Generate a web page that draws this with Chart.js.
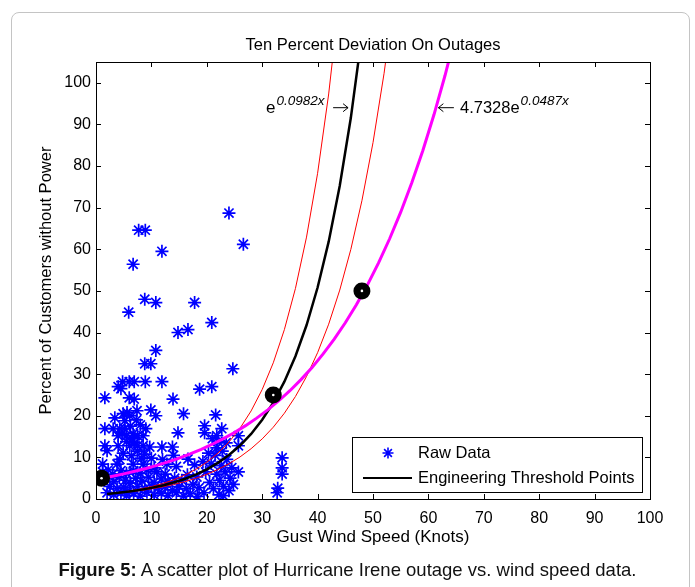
<!DOCTYPE html>
<html lang="en">
<head>
<meta charset="UTF-8">
<title>Ten Percent Deviation On Outages</title>
<style>
  body {
      margin: 0;
      padding: 0;
      background: #fff;
      font-family: 'Liberation Sans', Arial, sans-serif;
      overflow: hidden;
  }
  .page {
      position: relative;
      width: 695px;
      height: 587px;
      overflow: hidden;
  }
  .frame {
      position: absolute;
      left: 11px;
      top: 12px;
      width: 677px;
      height: 640px;
      border: 1px solid #c4c4c4;
      border-radius: 8px;
  }
  canvas {
      position: absolute;
      left: 0;
      top: 0;
  }
  .caption {
      position: absolute;
      left: 0;
      top: 559px;
      width: 695px;
      text-align: center;
      font-size: 18.5px;
      color: #111;
  }
</style>
</head>
<body>
<div class="page">
  <div class="frame"></div>
  <canvas id="chart" width="695" height="587"></canvas>
  <div class="caption"><b>Figure 5:</b> A scatter plot of Hurricane Irene outage vs. wind speed data.</div>
</div>

<script src="https://cdn.jsdelivr.net/npm/chart.js"></script>
<script>
  // --- data ---
  const chartTitle = 'Ten Percent Deviation On Outages';
  const xTitle = 'Gust Wind Speed (Knots)';
  const yTitle = 'Percent of Customers without Power';
  const xTicks = [0, 10, 20, 30, 40, 50, 60, 70, 80, 90, 100];
  const yTicks = [0, 10, 20, 30, 40, 50, 60, 70, 80, 90, 100];

  // raw data (blue asterisks)
  const rawX = [
    24, 7.7, 8.9, 11.9, 26.6, 6.7, 8.8, 10.8, 17.8, 5.9, 20.9, 14.8, 16.6, 10.8, 8.8, 9.9, 24.7,
    1.6, 4.8, 6, 6.9, 8.9, 11.9, 4, 4.5, 6, 6.9, 13.9, 18.7, 20.9, 9.9, 10.8, 15.8, 21.6, 3.4, 4.9, 6.1, 7.4, 5.6,
    1.6, 3.1, 9, 14.8, 19.6, 19.6, 22.7, 21.8, 25.7, 25.7, 2, 9.7, 11.9, 13.8, 21.8, 16.6, 33.6, 33.6, 33.6, 32.7, 32.8, 25.7,
    4.3, 5.2, 4.7, 6.7, 6.5, 4, 5.5, 7.5, 8.5, 1.6, 4, 6.1, 7.5, 8.5, 4.9, 6.4, 7.5, 5.5, 7, 6.2, 8, 7.3, 5.2, 4.3, 8.2, 8.8,
    1.2, 3.8, 6.7, 8.5, 12.8, 10.5, 14.5, 17.8,
    1.2, 2.2, 3, 4.5, 5.5, 6.8, 8, 9.2, 11, 12.5,
    2, 3.2, 4.2, 5.3, 6.2, 7.2, 8.3, 9.5, 10.5, 11.8, 13, 14.2, 15.5,
    2.5, 3.8, 5, 6, 7.5, 8.8, 10, 11.2, 12.5, 13.8, 15, 16.3, 17.5, 18.6,
    2, 3.2, 4.5, 5.5, 6.8, 8, 9.2, 10.5, 11.8, 13, 14.5, 15.8, 17, 18.3, 19.5,
    16.5, 18.2, 12, 14, 10,
    19.8, 20.5, 20.8, 21.2, 21.5, 21.8, 22.2, 22.3, 22.6, 22.8, 23, 23.3, 23.5, 23.6, 24, 24.2, 24.5, 22, 20.3, 19.3, 21, 24.8, 23
  ];
  const rawY = [
    68.7, 64.6, 64.6, 59.5, 61.2, 56.4, 48, 47.2, 47.2, 44.9, 42.4, 40, 40.7, 35.7, 32.5, 32.5, 31.3,
    24.3, 28.2, 28.2, 28.2, 28.2, 28.2, 27, 26.5, 24.3, 24, 24, 26.4, 27, 21.4, 20, 20.5, 20.2, 19.5, 20.5, 20, 21.2, 20.8,
    16.9, 16.9, 16.9, 15.9, 17.6, 15.9, 16.9, 15.2, 15.2, 12.8, 11.6, 12.5, 12.5, 12.5, 12.3, 9.6, 9.9, 7.5, 6, 1.5, 2.6, 6.5,
    16.9, 16.9, 15.7, 15.7, 14.5, 15.2, 15.2, 15.2, 15.2, 12.8, 12.8, 12.8, 12.8, 12.8, 11, 10.4, 11.5, 13.8, 13.5, 17.5, 17.8, 19, 18.8, 9.5, 9.8, 10.8,
    8.4, 8.4, 8.4, 8.4, 8.4, 7.5, 7.8, 8.2,
    6.5, 7, 6, 6.8, 6.2, 6.8, 6.2, 7, 6.5, 6,
    4.8, 4.2, 5.2, 4.5, 3.8, 5, 4.3, 5.2, 4, 4.8, 4.2, 5, 4.5,
    3, 2.5, 2.8, 2, 3, 2.5, 3.2, 2.6, 3, 2.2, 3, 2.5, 3.5, 2.7,
    1.5, 1, 1.5, 0.8, 1.3, 0.7, 1.6, 0.9, 1.4, 0.8, 1.5, 0.7, 1.3, 0.6, 1.5,
    5.8, 5.3, 9.5, 10.5, 9.8,
    6.5, 4, 8.5, 2.5, 10.5, 6, 1, 4.5, 8, 11.5, 3, 6.5, 13.5, 9.5, 2, 5, 7.5, 13.8, 11, 9, 14.5, 3.5, 0.8
  ];

  // engineering threshold points (black circles)
  const thresholdX = [1, 32, 48];
  const thresholdY = [5, 25, 50];

  // black curve  e^(0.0982x)
  const fitX = [2, 4, 6, 8, 10, 12, 14, 16, 18, 20, 22, 24, 26, 28, 30, 32, 34, 36, 38, 40, 42, 44, 46, 48];
  const fitY = [1.22, 1.48, 1.80, 2.19, 2.67, 3.25, 3.95, 4.81, 5.86, 7.13, 8.68, 10.56, 12.85, 15.64, 19.03, 23.16, 28.19, 34.31, 41.75, 50.81, 61.84, 75.26, 91.59, 111.5];

  // red curves, ten percent deviation
  const upperX = [2, 4, 6, 8, 10, 12, 14, 16, 18, 20, 22, 24, 26, 28, 30, 32, 34, 36, 38, 40, 42, 44];
  const upperY = [1.24, 1.55, 1.92, 2.39, 2.97, 3.70, 4.60, 5.72, 7.11, 8.85, 11.0, 13.68, 17.01, 21.16, 26.31, 32.72, 40.69, 50.6, 62.93, 78.26, 97.32, 121.0];
  const lowerX = [2, 4, 6, 8, 10, 12, 14, 16, 18, 20, 22, 24, 26, 28, 30, 32, 34, 36, 38, 40, 42, 44, 46, 48, 50, 52, 54];
  const lowerY = [1.2, 1.43, 1.71, 2.04, 2.44, 2.91, 3.48, 4.15, 4.96, 5.93, 7.09, 8.47, 10.11, 12.09, 14.44, 17.25, 20.61, 24.63, 29.43, 35.16, 42.01, 50.2, 59.98, 71.67, 85.63, 102.3, 122.3];

  // magenta curve  4.7328e^(0.0487x)
  const trendX = [1, 3, 5, 7, 9, 11, 13, 15, 17, 19, 21, 23, 25, 27, 29, 31, 33, 35, 37, 39, 41, 43, 45, 47, 49, 51, 53, 55, 57, 59, 61, 63, 65];
  const trendY = [4.97, 5.48, 6.04, 6.66, 7.34, 8.09, 8.91, 9.83, 10.83, 11.94, 13.16, 14.51, 15.99, 17.63, 19.43, 21.42, 23.61, 26.02, 28.69, 31.62, 34.86, 38.42, 42.35, 46.68, 51.46, 56.72, 62.53, 68.92, 75.97, 83.74, 92.31, 101.75, 112.16];

  const legendLabels = ['Raw Data', 'Engineering Threshold Points'];

  const pts = (xs, ys) => xs.map((v, i) => ({ x: v, y: ys[i] }));
  const FONT = '"Liberation Sans", Arial, sans-serif';

  function star(ctx, cx, cy, r) {
    const d = r * Math.SQRT1_2;
    ctx.beginPath();
    ctx.moveTo(cx - r, cy); ctx.lineTo(cx + r, cy);
    ctx.moveTo(cx, cy - r); ctx.lineTo(cx, cy + r);
    ctx.moveTo(cx - d, cy - d); ctx.lineTo(cx + d, cy + d);
    ctx.moveTo(cx - d, cy + d); ctx.lineTo(cx + d, cy - d);
    ctx.stroke();
  }

  // thin text-style arrow, dir = 1 points right, -1 points left
  function arrow(ctx, x0, x1, yy, dir) {
    const tip = dir > 0 ? x1 : x0;
    ctx.beginPath();
    ctx.moveTo(x0, yy); ctx.lineTo(x1, yy);
    ctx.moveTo(tip - dir * 5, yy - 4); ctx.lineTo(tip, yy); ctx.lineTo(tip - dir * 5, yy + 4);
    ctx.stroke();
  }

  // axes box, inward ticks, titles, formula labels and legend
  const decor = {
    id: 'decor',
    afterDraw(chart) {
      const { ctx, chartArea: ca, scales: { x, y } } = chart;
      ctx.save();
      ctx.strokeStyle = '#000';
      ctx.lineWidth = 1;
      ctx.strokeRect(ca.left + 0.5, ca.top + 0.5, ca.right - ca.left, ca.bottom - ca.top);

      ctx.beginPath();
      xTicks.forEach(v => {
        const px = Math.round(x.getPixelForValue(v)) + 0.5;
        ctx.moveTo(px, ca.bottom); ctx.lineTo(px, ca.bottom - 5);
        ctx.moveTo(px, ca.top); ctx.lineTo(px, ca.top + 5);
      });
      yTicks.forEach(v => {
        const py = Math.round(y.getPixelForValue(v)) + 0.5;
        ctx.moveTo(ca.left, py); ctx.lineTo(ca.left + 5, py);
        ctx.moveTo(ca.right, py); ctx.lineTo(ca.right - 5, py);
      });
      ctx.stroke();

      // titles
      ctx.fillStyle = '#000';
      ctx.textAlign = 'center';
      ctx.textBaseline = 'middle';
      const cx = (ca.left + ca.right) / 2;
      ctx.font = '16.5px ' + FONT;
      ctx.fillText(chartTitle, cx, ca.top - 17);
      ctx.font = '17px ' + FONT;
      ctx.fillText(xTitle, cx, ca.bottom + 38);
      ctx.font = '16.5px ' + FONT;
      ctx.save();
      ctx.translate(ca.left - 50, (ca.top + ca.bottom) / 2);
      ctx.rotate(-Math.PI / 2);
      ctx.fillText(yTitle, 0, 0);
      ctx.restore();

      // formula labels
      ctx.textAlign = 'left';
      ctx.textBaseline = 'alphabetic';
      let lx = x.getPixelForValue(30.7);
      const base = y.getPixelForValue(92.7);
      ctx.font = '17px ' + FONT;
      ctx.fillText('e', lx, base);
      lx += ctx.measureText('e').width + 1;
      ctx.font = 'italic 13.5px ' + FONT;
      ctx.fillText('0.0982x', lx, base - 8);
      ctx.lineWidth = 1;
      arrow(ctx, x.getPixelForValue(42.8), x.getPixelForValue(45.5), base - 5.5, 1);
      arrow(ctx, x.getPixelForValue(61.8), x.getPixelForValue(64.6), base - 5.5, -1);

      let rx = x.getPixelForValue(65.7);
      ctx.font = '16.5px ' + FONT;
      ctx.fillText('4.7328e', rx, base);
      rx += ctx.measureText('4.7328e').width + 1;
      ctx.font = 'italic 13.5px ' + FONT;
      ctx.fillText('0.0487x', rx, base - 8);

      // legend
      const bx = ca.right - 298, by = ca.bottom - 62, bw = 290, bh = 55;
      ctx.fillStyle = '#fff';
      ctx.fillRect(bx, by, bw, bh);
      ctx.lineWidth = 1;
      ctx.strokeStyle = '#000';
      ctx.strokeRect(bx + 0.5, by + 0.5, bw, bh);
      ctx.strokeStyle = '#0000ff';
      ctx.lineWidth = 1.6;
      star(ctx, bx + 36, by + 16, 5.5);
      ctx.strokeStyle = '#000';
      ctx.lineWidth = 2;
      ctx.beginPath();
      ctx.moveTo(bx + 11, by + 41); ctx.lineTo(bx + 60, by + 41);
      ctx.stroke();
      ctx.fillStyle = '#000';
      ctx.font = '16.5px ' + FONT;
      ctx.textBaseline = 'middle';
      ctx.fillText(legendLabels[0], bx + 66, by + 16);
      ctx.fillText(legendLabels[1], bx + 66, by + 41);
      ctx.restore();
    }
  };

  const line = (data, color, width, order) => ({
    data, showLine: true, borderColor: color, borderWidth: width,
    pointRadius: 0, fill: false, order
  });

  new Chart(document.getElementById('chart'), {
    type: 'scatter',
    data: {
      datasets: [
        { data: pts(thresholdX, thresholdY), pointRadius: 1.3, backgroundColor: '#fff', borderColor: '#fff', borderWidth: 0, order: 0 },
        { data: pts(thresholdX, thresholdY), pointRadius: 8.5, backgroundColor: '#000', borderColor: '#000', borderWidth: 0, order: 1 },
        line(pts(trendX, trendY), '#ff00ff', 3, 2),
        line(pts(fitX, fitY), '#000', 2.5, 3),
        line(pts(upperX, upperY), '#ff0000', 1, 4),
        line(pts(lowerX, lowerY), '#ff0000', 1, 5),
        { data: pts(rawX, rawY), pointStyle: 'star', pointRadius: 6.5, borderColor: '#0000ff', backgroundColor: '#0000ff', borderWidth: 1.7, order: 6 }
      ]
    },
    options: {
      responsive: false,
      animation: false,
      layout: { padding: { left: 0, top: 62, right: 45, bottom: 48 } },
      plugins: { legend: { display: false }, tooltip: { enabled: false } },
      scales: {
        x: {
          type: 'linear', min: 0, max: 100,
          afterBuildTicks: s => { s.ticks = xTicks.map(v => ({ value: v })); },
          afterFit: s => { s.height = 40; },
          grid: { display: false, drawTicks: false }, border: { display: false },
          ticks: { color: '#000', padding: 10, maxRotation: 0, font: { size: 16, family: FONT } }
        },
        y: {
          type: 'linear', min: 0, max: 105,
          afterBuildTicks: s => { s.ticks = yTicks.map(v => ({ value: v })); },
          afterFit: s => { s.width = 96; },
          grid: { display: false, drawTicks: false }, border: { display: false },
          ticks: { color: '#000', padding: 5, font: { size: 16, family: FONT } }
        }
      }
    },
    plugins: [decor]
  });
</script>
</body>
</html>
